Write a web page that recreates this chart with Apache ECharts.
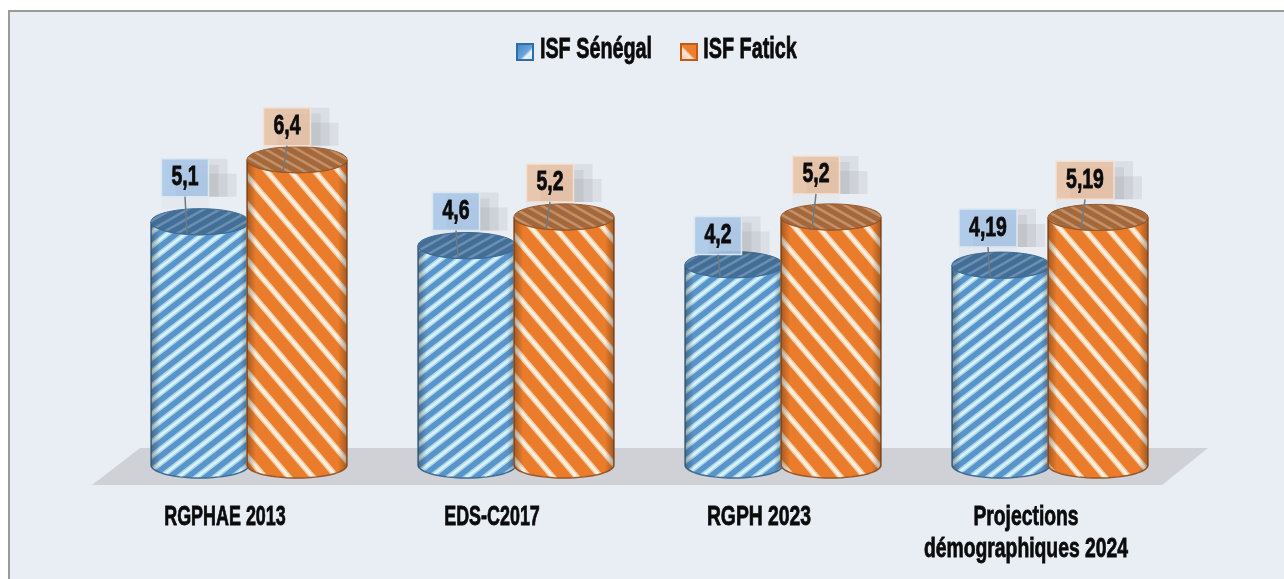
<!DOCTYPE html>
<html>
<head>
<meta charset="utf-8">
<title>ISF</title>
<script src="https://cdn.jsdelivr.net/npm/echarts@6/dist/echarts.min.js"></script>
<style>
    html, body { margin: 0; padding: 0; background: #fff; }
    #panel { position: absolute; left: 8px; top: 10px; width: 1276px; height: 569px; box-sizing: border-box;
        background: #e9edf4; border-top: 2px solid #9a9a9a; border-left: 2px solid #9a9a9a; }
    #main { position: absolute; left: 0; top: 0; width: 1284px; height: 579px; }
</style>
</head>
<body>
<div id="panel"></div>
<div id="main"></div>
<script>
    var categories = ['RGPHAE 2013', 'EDS-C2017', 'RGPH 2023', 'Projections\ndémographiques 2024'];
    var seriesNames = ['ISF Sénégal', 'ISF Fatick'];
    var senegal = [5.1, 4.6, 4.2, 4.19];
    var fatick = [6.4, 5.2, 5.2, 5.19];

    // label box placement relative to the top of each cylinder: [dx, gap above top centre]
    var senegalLabelShift = [[-15, 25], [-11, 15], [-16, 10], [-13, 18]];
    var fatickLabelShift = [[-10, 14], [-14, 15], [-15, 23], [-13, 18]];
    var categorySqueeze = [0.64, 0.64, 0.69, 0.69];

    var font = '"Liberation Sans", Arial, sans-serif';

    // the reference font is very condensed, so regular bold text gets squeezed
    function narrowText(text, x, y, size, squeeze, extra) {
        var el = {
            type: 'text',
            x: x,
            y: y,
            scaleX: squeeze,
            style: {
                text: text, x: 0, y: 0,
                align: 'center', verticalAlign: 'middle',
                fill: '#0b0b0b', fontFamily: font, fontWeight: 'bold', fontSize: size,
                stroke: '#0b0b0b', lineWidth: 0.8,
                lineHeight: 32
            }
        };
        if (extra) {
            for (var k in extra) el[k] = extra[k];
        }
        return el;
    }

    // striped tile, the stripes run corner to corner so the tile repeats cleanly
    function stripes(w, h, rising, base, layers) {
        var c = document.createElement('canvas');
        c.width = w;
        c.height = h;
        var ctx = c.getContext('2d');
        ctx.fillStyle = base;
        ctx.fillRect(0, 0, w, h);
        layers.forEach(function (l) {
            ctx.strokeStyle = l[0];
            ctx.lineWidth = l[1];
            for (var i = -2; i <= 2; i++) {
                ctx.beginPath();
                if (rising) {
                    ctx.moveTo(i * w - w, 2 * h);
                    ctx.lineTo(i * w + 2 * w, -h);
                } else {
                    ctx.moveTo(i * w - w, -h);
                    ctx.lineTo(i * w + 2 * w, 2 * h);
                }
                ctx.stroke();
            }
        });
        return {image: c, repeat: 'repeat'};
    }

    function cylinder(name, values, shift, o) {
        return {
            name: name,
            type: 'custom',
            coordinateSystem: 'cartesian2d',
            clip: false,
            encode: {x: 0, y: 1},
            data: values.map(function (v, i) { return [i, v]; }),
            renderItem: function (params, api) {
                var top = api.coord([api.value(0), api.value(1)]);
                var base = api.coord([api.value(0), 0]);
                var cx = top[0] + o.offset, rx = o.width / 2, ry = 13;
                var yTop = top[1], yBase = base[1];

                var pts = [];
                for (var a = 0; a <= 180; a += 6) {
                    var r = a * Math.PI / 180;
                    pts.push([cx + rx * Math.cos(r), yBase + ry * Math.sin(r)]);
                }
                for (a = 180; a >= 0; a -= 6) {
                    r = a * Math.PI / 180;
                    pts.push([cx + rx * Math.cos(r), yTop + ry * Math.sin(r)]);
                }

                var s = shift[params.dataIndex];
                var bw = String(api.value(1)).length > 3 ? 58 : 47, bh = 38;
                var bx = cx + s[0] - bw / 2, by = yTop - s[1] - bh;
                var shade = 'rgba(80,80,80,0.09)';

                return {
                    type: 'group',
                    children: [
                        {type: 'polygon', shape: {points: pts},
                            style: {fill: o.body, stroke: o.edge, lineWidth: 1.5}},
                        {type: 'polygon', shape: {points: pts},
                            style: {
                                fill: new echarts.graphic.LinearGradient(0, 0, 1, 0, [
                                    {offset: 0, color: 'rgba(40,30,20,0.38)'},
                                    {offset: 0.09, color: 'rgba(40,30,20,0.03)'},
                                    {offset: 0.91, color: 'rgba(40,30,20,0.03)'},
                                    {offset: 1, color: 'rgba(40,30,20,0.38)'}
                                ])
                            }},
                        {type: 'ellipse', shape: {cx: cx, cy: yTop, rx: rx, ry: ry},
                            style: {fill: o.lid, stroke: o.edge, lineWidth: 1}},
                        // pixelated shadow behind the label
                        {type: 'rect', z2: 5, shape: {x: bx + 14, y: by + 15, width: bw + 14, height: bh - 15},
                            style: {fill: shade}},
                        {type: 'rect', z2: 5, shape: {x: bx + 14, y: by, width: bw + 5, height: bh},
                            style: {fill: shade}},
                        {type: 'rect', z2: 5, shape: {x: bx + 14, y: by + 6, width: bw - 4, height: bh - 6},
                            style: {fill: shade}},
                        {type: 'rect', z2: 5, shape: {x: bx, y: by + bh, width: bw, height: 12},
                            style: {fill: 'rgba(80,80,80,0.03)'}},
                        {type: 'rect', z2: 6, shape: {x: bx, y: by, width: bw, height: bh},
                            style: {fill: o.boxFill, stroke: o.boxEdge, lineWidth: 1.5}},
                        {type: 'line', z2: 6,
                            shape: {x1: bx + bw / 2, y1: by + bh, x2: bx + bw / 2 + o.leadDx, y2: yTop + 12},
                            style: {stroke: '#6e7b84', lineWidth: 1.5}},
                        narrowText(String(api.value(1)).replace('.', ','), bx + bw / 2, by + bh / 2, 27, 0.72, {z2: 7})
                    ]
                };
            }
        };
    }

    // axis labels, squeezed the same way, placed from the category scale
    var labelSeries = {
        type: 'custom',
        coordinateSystem: 'cartesian2d',
        clip: false,
        silent: true,
        encode: {x: 0, y: 1},
        data: categories.map(function (c, i) { return [i, 0]; }),
        renderItem: function (params, api) {
            var p = api.coord([api.value(0), 0]);
            var text = categories[params.dataIndex];
            var lines = text.split('\n').length;
            return narrowText(text, p[0] - 24, p[1] + 52 + (lines - 1) * 16, 28, categorySqueeze[params.dataIndex]);
        }
    };

    function legendItem(name, x, textX, fill, border) {
        return {
            type: 'group',
            children: [
                {type: 'rect', shape: {x: x, y: 44, width: 16, height: 16},
                    style: {fill: fill, stroke: border, lineWidth: 2}},
                narrowText(name, textX, 50, 30, 0.66)
            ]
        };
    }

    var myChart = echarts.init(document.getElementById('main'));

    var option = {
        backgroundColor: 'transparent',
        animation: false,
        grid: {left: 115.5, width: 1068, top: 131, height: 334},
        xAxis: {
            type: 'category',
            data: categories,
            axisLine: {show: false},
            axisTick: {show: false},
            axisLabel: {show: false}
        },
        yAxis: {type: 'value', min: 0, max: 7, show: false},
        graphic: [
            {
                type: 'polygon',
                silent: true,
                shape: {points: [[140, 448], [1208, 448], [1162, 485], [92, 485]]},
                style: {fill: '#cfd1d6'}
            },
            legendItem(seriesNames[0], 517, 596,
                new echarts.graphic.LinearGradient(0, 0, 1, 1, [
                    {offset: 0, color: '#3f82c4'}, {offset: 0.55, color: '#6aa5dc'},
                    {offset: 0.65, color: '#e8f2fb'}, {offset: 1, color: '#cfe2f5'}
                ]), '#2f6ca8'),
            legendItem(seriesNames[1], 681, 750,
                new echarts.graphic.LinearGradient(1, 0, 0, 1, [
                    {offset: 0, color: '#ee7f2e'}, {offset: 0.5, color: '#ee7f2e'},
                    {offset: 0.6, color: '#fbe6d4'}, {offset: 1, color: '#f4c39c'}
                ]), '#bf5a18')
        ],
        series: [
            cylinder(seriesNames[0], senegal, senegalLabelShift, {
                offset: -49, width: 98, leadDx: 2,
                body: stripes(18, 14, true, '#5c97cf', [['#a9dff5', 5.5], ['#e6f8fd', 2.5]]),
                lid: stripes(16, 9, true, '#436e98', [['#6a8fb0', 2.5]]),
                edge: '#3f6d96',
                boxFill: 'rgba(168,198,231,0.86)', boxEdge: '#dbe7f3'
            }),
            cylinder(seriesNames[1], fatick, fatickLabelShift, {
                offset: 48, width: 100, leadDx: -4,
                body: stripes(24, 28, false, '#f07f2c', [['#fbd3a8', 6], ['#fff6ea', 3]]),
                lid: stripes(16, 9, false, '#a5683a', [['#c2906a', 2.5]]),
                edge: '#98582a',
                boxFill: 'rgba(232,192,163,0.86)', boxEdge: '#f3e2d4'
            }),
            labelSeries
        ]
    };

    myChart.setOption(option);
</script>
</body>
</html>
